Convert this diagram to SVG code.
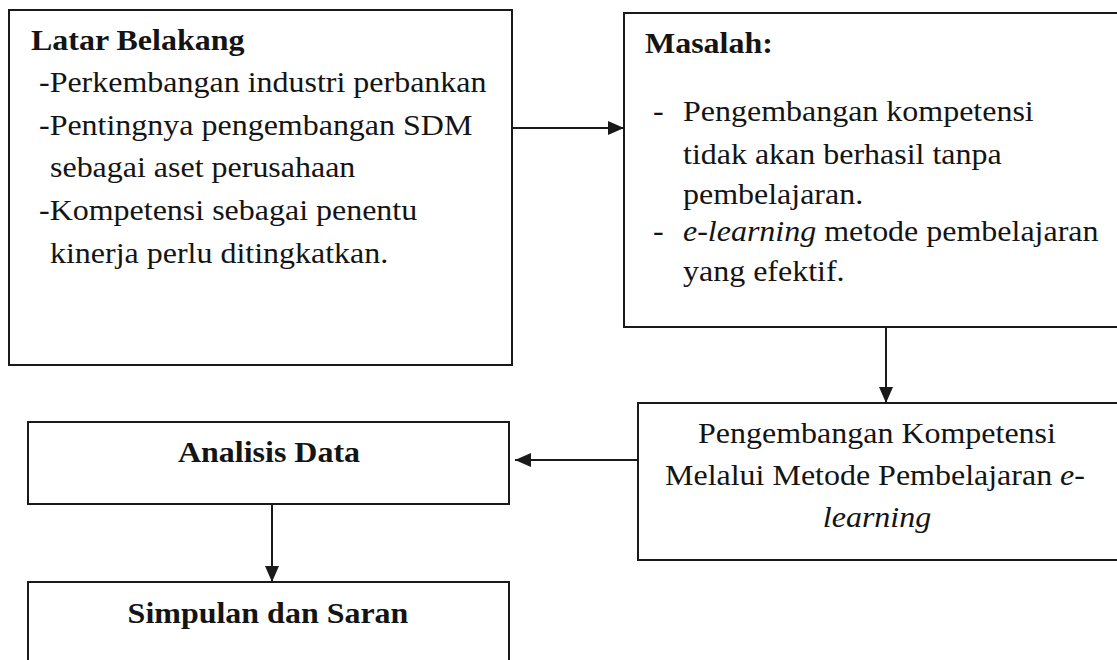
<svg xmlns="http://www.w3.org/2000/svg" width="1117" height="660" viewBox="0 0 1117 660">
<style>
.t { font-family: "Liberation Serif", "Times New Roman", serif; font-size: 29px; fill: #141414; }
.b { font-weight: bold; }
.i { font-style: italic; }
.box { fill: none; stroke: #1a1a1a; stroke-width: 2; }
.conn { fill: none; stroke: #1a1a1a; stroke-width: 2; }
</style>
<defs>
<marker id="arr" markerUnits="userSpaceOnUse" markerWidth="16" markerHeight="14" refX="16" refY="7" orient="auto">
<path d="M0,0 L16,7 L0,14 z" fill="#1a1a1a"/>
</marker>
</defs>
<rect x="0" y="0" width="1117" height="660" fill="#ffffff"/>

<g id="latar-belakang">
<rect class="box" x="9" y="10" width="503" height="355"/>
<text class="t b" transform="translate(31 50) scale(1.103 1)">Latar Belakang</text>
<text class="t" transform="translate(39 92) scale(1.103 1)">-Perkembangan industri perbankan</text>
<text class="t" transform="translate(39 135) scale(1.103 1)">-Pentingnya pengembangan SDM</text>
<text class="t" transform="translate(50 177) scale(1.103 1)">sebagai aset perusahaan</text>
<text class="t" transform="translate(39 220) scale(1.103 1)">-Kompetensi sebagai penentu</text>
<text class="t" transform="translate(50 263) scale(1.103 1)">kinerja perlu ditingkatkan.</text>
</g>

<g id="masalah">
<rect class="box" x="624" y="13" width="520" height="314"/>
<text class="t b" transform="translate(645 53) scale(1.103 1)">Masalah:</text>
<text class="t" transform="translate(653 121) scale(1.103 1)">-</text>
<text class="t" transform="translate(683 121) scale(1.103 1)">Pengembangan kompetensi</text>
<text class="t" transform="translate(683 164) scale(1.103 1)">tidak akan berhasil tanpa</text>
<text class="t" transform="translate(683 204) scale(1.103 1)">pembelajaran.</text>
<text class="t" transform="translate(653 241) scale(1.103 1)">-</text>
<text class="t" transform="translate(683 241) scale(1.103 1)"><tspan class="i">e-learning</tspan> metode pembelajaran</text>
<text class="t" transform="translate(683 281) scale(1.103 1)">yang efektif.</text>
</g>

<g id="pengembangan">
<rect class="box" x="638" y="403" width="500" height="157"/>
<text class="t" text-anchor="middle" transform="translate(877 443) scale(1.103 1)">Pengembangan Kompetensi</text>
<text class="t" text-anchor="middle" transform="translate(875 485) scale(1.103 1)">Melalui Metode Pembelajaran <tspan class="i">e-</tspan></text>
<text class="t i" text-anchor="middle" transform="translate(877 527) scale(1.103 1)">learning</text>
</g>

<g id="analisis-data">
<rect class="box" x="28" y="422" width="481" height="82"/>
<text class="t b" text-anchor="middle" transform="translate(269 462) scale(1.103 1)">Analisis Data</text>
</g>

<g id="simpulan">
<rect class="box" x="28" y="582" width="481" height="120"/>
<text class="t b" text-anchor="middle" transform="translate(268 623) scale(1.103 1)">Simpulan dan Saran</text>
</g>

<g id="connectors">
<line class="conn" x1="512" y1="128" x2="624" y2="128" marker-end="url(#arr)"/>
<line class="conn" x1="886" y1="327" x2="886" y2="403" marker-end="url(#arr)"/>
<line class="conn" x1="638" y1="460" x2="515" y2="460" marker-end="url(#arr)"/>
<line class="conn" x1="272" y1="504" x2="272" y2="582" marker-end="url(#arr)"/>
</g>
</svg>
